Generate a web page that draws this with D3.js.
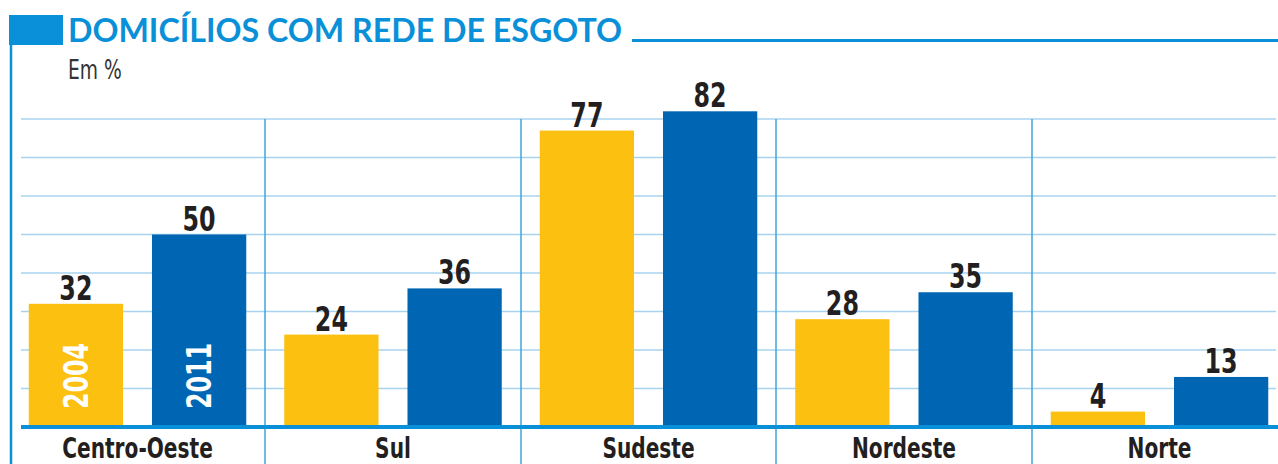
<!DOCTYPE html>
<html>
<head>
<meta charset="utf-8">
<script src="https://cdn.jsdelivr.net/npm/d3@7"></script>
<style>
    body { margin: 0; background: #fff; }
    svg { display: block; }
</style>
</head>
<body>
<div id="chart"></div>
<script>
// data
const categories = ['Centro-Oeste', 'Sul', 'Sudeste', 'Nordeste', 'Norte'];
const years = ['2004', '2011'];
const values2004 = [32, 24, 77, 28, 4];
const values2011 = [50, 36, 82, 35, 13];
const gridTicks = [10, 20, 30, 40, 50, 60, 70, 80];
const titleText = 'DOMICÍLIOS COM REDE DE ESGOTO';
const unitText = 'Em %';

const width = 1278,
    height = 464
const baseY = 427
const topY = 119

const lightBlue = '#0a90d8'
const gridColor = '#a8d3f0'
const yearColors = ['#fcc010', '#0066b3']
const narrow = '"Liberation Sans Narrow", "DejaVu Sans Condensed", sans-serif'
// the original face is very condensed, squeeze the fallback horizontally
const squeeze = 0.8

const svg = d3.select('#chart')
    .append('svg')
    .attr('width', width)
    .attr('height', height)

// y scale: 0 at baseline, 80 at top gridline
const y = d3.scaleLinear()
    .domain([0, 80])
    .range([baseY, topY])

// one band per region
const x = d3.scaleBand()
    .domain(categories)
    .range([9.75, 1287.25])

// the two bars inside a band
const xInner = d3.scaleBand()
    .domain(years)
    .range([19, x.bandwidth() - 19])
    .paddingInner(0.235)

// gridlines
svg.append('g')
    .selectAll('line')
    .data(gridTicks)
    .join('line')
    .attr('x1', 21)
    .attr('x2', 1276)
    .attr('y1', d => y(d))
    .attr('y2', d => y(d))
    .attr('stroke', gridColor)
    .attr('stroke-width', 1.5)

// vertical separators between regions
svg.append('g')
    .selectAll('line')
    .data(categories.slice(1))
    .join('line')
    .attr('x1', d => Math.round(x(d)))
    .attr('x2', d => Math.round(x(d)))
    .attr('y1', topY)
    .attr('y2', height)
    .attr('stroke', '#3ea3e0')
    .attr('stroke-width', 1.5)

// bars
const groups = svg.append('g')
    .selectAll('g')
    .data(categories.map((c, i) => ({ name: c, vals: [values2004[i], values2011[i]] })))
    .join('g')
    .attr('transform', d => `translate(${x(d.name)},0)`)

groups.selectAll('rect')
    .data(d => d.vals.map((v, i) => ({ year: years[i], value: v, i })))
    .join('rect')
    .attr('x', d => xInner(d.year))
    .attr('y', d => y(d.value))
    .attr('width', xInner.bandwidth())
    .attr('height', d => baseY - y(d.value))
    .attr('fill', d => yearColors[d.i])

// value labels
groups.selectAll('text.val')
    .data(d => d.vals.map((v, i) => ({ year: years[i], value: v })))
    .join('text')
    .attr('class', 'val')
    .attr('transform', d => `translate(${xInner(d.year) + xInner.bandwidth() / 2},${y(d.value) - 4}) scale(${squeeze},1)`)
    .attr('text-anchor', 'middle')
    .style('font-family', narrow)
    .style('font-weight', 'bold')
    .style('font-size', '33px')
    .style('fill', '#231f20')
    .text(d => d.value)

// year labels inside the first group's bars
const first = groups.filter((d, i) => i === 0)
first.selectAll('text.year')
    .data(years)
    .join('text')
    .attr('class', 'year')
    .attr('transform', d => `translate(${xInner(d) + xInner.bandwidth() / 2 + 12},${baseY - 18}) rotate(-90) scale(${squeeze},1)`)
    .style('font-family', narrow)
    .style('font-weight', 'bold')
    .style('font-size', '33px')
    .style('fill', '#fff')
    .text(d => d)

// thick baseline
svg.append('line')
    .attr('x1', 21)
    .attr('x2', width)
    .attr('y1', baseY)
    .attr('y2', baseY)
    .attr('stroke', lightBlue)
    .attr('stroke-width', 4)

// category labels
svg.append('g')
    .selectAll('text')
    .data(categories)
    .join('text')
    .attr('transform', d => `translate(${x(d) + x.bandwidth() / 2},458) scale(${squeeze},1)`)
    .attr('text-anchor', 'middle')
    .style('font-family', narrow)
    .style('font-weight', 'bold')
    .style('font-size', '28px')
    .style('fill', '#231f20')
    .text(d => d)

// header: blue block, left rule, title, title rule
svg.append('rect')
    .attr('x', 9)
    .attr('y', 15)
    .attr('width', 54)
    .attr('height', 30)
    .attr('fill', lightBlue)

svg.append('line')
    .attr('x1', 11)
    .attr('x2', 11)
    .attr('y1', 45)
    .attr('y2', height)
    .attr('stroke', lightBlue)
    .attr('stroke-width', 2.5)

const title = svg.append('text')
    .attr('x', 68)
    .attr('y', 42)
    .style('font-family', 'Lato, "Open Sans", sans-serif')
    .style('font-weight', 'bold')
    .style('font-size', '32px')
    .style('fill', lightBlue)
    .text(titleText)

// squeeze the title to the width it has in the picture
title.attr('textLength', 554).attr('lengthAdjust', 'spacingAndGlyphs')

svg.append('line')
    .attr('x1', 632)
    .attr('x2', width)
    .attr('y1', 40.5)
    .attr('y2', 40.5)
    .attr('stroke', lightBlue)
    .attr('stroke-width', 3)

svg.append('text')
    .attr('transform', `translate(68,79) scale(${squeeze},1)`)
    .style('font-family', narrow)
    .style('font-size', '26px')
    .style('fill', '#333')
    .text(unitText)
</script>
</body>
</html>
